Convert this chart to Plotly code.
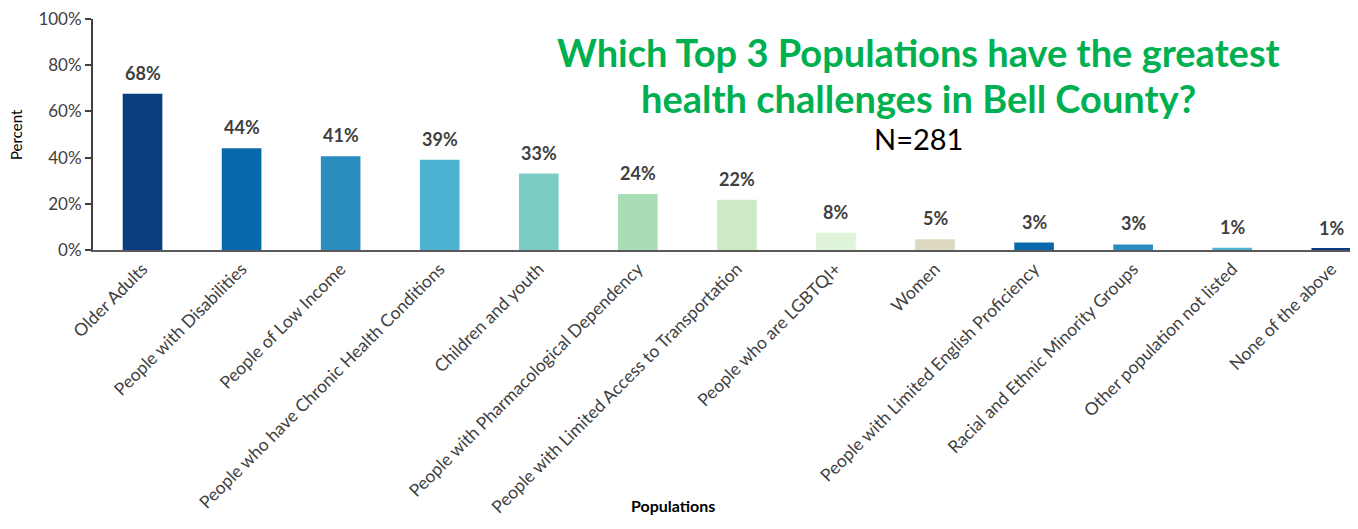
import plotly.graph_objects as go

categories = [
    "Older Adults",
    "People with Disabilities",
    "People of Low Income",
    "People who have Chronic Health Conditions",
    "Children and youth",
    "People with Pharmacological Dependency",
    "People with Limited Access to Transportation",
    "People who are LGBTQI+",
    "Women",
    "People with Limited English Proficiency",
    "Racial and Ethnic Minority Groups",
    "Other population not listed",
    "None of the above",
]
values = [67.6, 44.1, 40.6, 39.1, 33.1, 24.2, 21.7, 7.5, 4.6, 3.2, 2.4, 1.0, 0.6]
value_labels = ["68%", "44%", "41%", "39%", "33%", "24%", "22%", "8%", "5%", "3%", "3%", "1%", "1%"]
bar_colors = ["#0a3d7d", "#0868ac", "#2b8cbe", "#4eb3d3", "#7bccc4", "#a8ddb5",
              "#ccebc5", "#e0f3db", "#ddd8c0", "#0868ac", "#2b8cbe", "#4eb3d3", "#0a3d7d"]
y_ticks = [0, 20, 40, 60, 80, 100]
y_tick_labels = ["0%", "20%", "40%", "60%", "80%", "100%"]
title_lines = ["Which Top 3 Populations have the greatest", "health challenges in Bell County?"]
subtitle = "N=281"

FONT = "Lato"
OFF = 8  # page body margin
L, T, W, H = 93 - OFF, 19 - OFF, 1265, 231  # plot area in figure pixels


def px_to_dom(xp, yp):
    # xp, yp are page pixel coordinates
    return (xp - OFF - L) / W, (T + H - (yp - OFF)) / H


fig = go.Figure()
fig.add_trace(go.Bar(
    x=list(range(len(categories))),
    y=values,
    marker=dict(color=bar_colors, line=dict(width=0)),
    width=0.4,
    showlegend=False,
    hovertemplate="%{y}<extra></extra>",
))

# value labels above bars
for i, (v, lab) in enumerate(zip(values, value_labels)):
    fig.add_annotation(x=i, y=v, xref="x", yref="y", text="<b>" + lab + "</b>",
                       showarrow=False, yanchor="bottom", yshift=8,
                       font=dict(family=FONT, size=18, color="#404040"))

fig.update_layout(
    width=1358, height=529,
    margin=dict(l=L, r=1358 - L - W, t=T, b=529 - T - H),
    paper_bgcolor="white", plot_bgcolor="white",
    font=dict(family=FONT, color="#404040"),
    xaxis=dict(
        automargin=False,
        range=[-0.5, 12.27],
        tickmode="array",
        tickvals=list(range(len(categories))),
        ticktext=categories,
        tickangle=-45,
        tickfont=dict(family=FONT, size=17.5, color="#404040"),
        ticklabeloverflow="allow",
        showline=True, linecolor="#595959", linewidth=2,
        ticks="", showgrid=False, zeroline=False,
    ),
    yaxis=dict(
        automargin=False,
        range=[0, 100],
        tickmode="array",
        tickvals=y_ticks,
        ticktext=y_tick_labels,
        tickfont=dict(family=FONT, size=17, color="#404040"),
        ticklabeloverflow="allow",
        showline=True, linecolor="#404040", linewidth=2,
        ticks="outside", ticklen=6, tickwidth=2, tickcolor="#404040",
        showgrid=False, zeroline=False,
    ),
)

# axis titles
x, y = px_to_dom(16, 135)
fig.add_annotation(xref="x domain", yref="y domain", x=x, y=y, showarrow=False,
                   text="Percent", textangle=-90, xanchor="center", yanchor="middle",
                   font=dict(family=FONT, size=15, color="#000000"))
x, y = px_to_dom(673, 505)
fig.add_annotation(xref="x domain", yref="y domain", x=x, y=y, showarrow=False,
                   text="<b>Populations</b>", xanchor="center", yanchor="middle",
                   font=dict(family=FONT, size=16, color="#000000"))

# title lines
for line, yp in zip(title_lines, [52, 98]):
    x, y = px_to_dom(918, yp)
    fig.add_annotation(xref="x domain", yref="y domain", x=x, y=y, showarrow=False,
                       text="<b>" + line + "</b>", xanchor="center", yanchor="middle",
                       font=dict(family=FONT, size=38, color="#00b050"))
x, y = px_to_dom(918, 138)
fig.add_annotation(xref="x domain", yref="y domain", x=x, y=y, showarrow=False,
                   text=subtitle, xanchor="center", yanchor="middle",
                   font=dict(family=FONT, size=29, color="#000000"))

fig.write_html("out.html")
